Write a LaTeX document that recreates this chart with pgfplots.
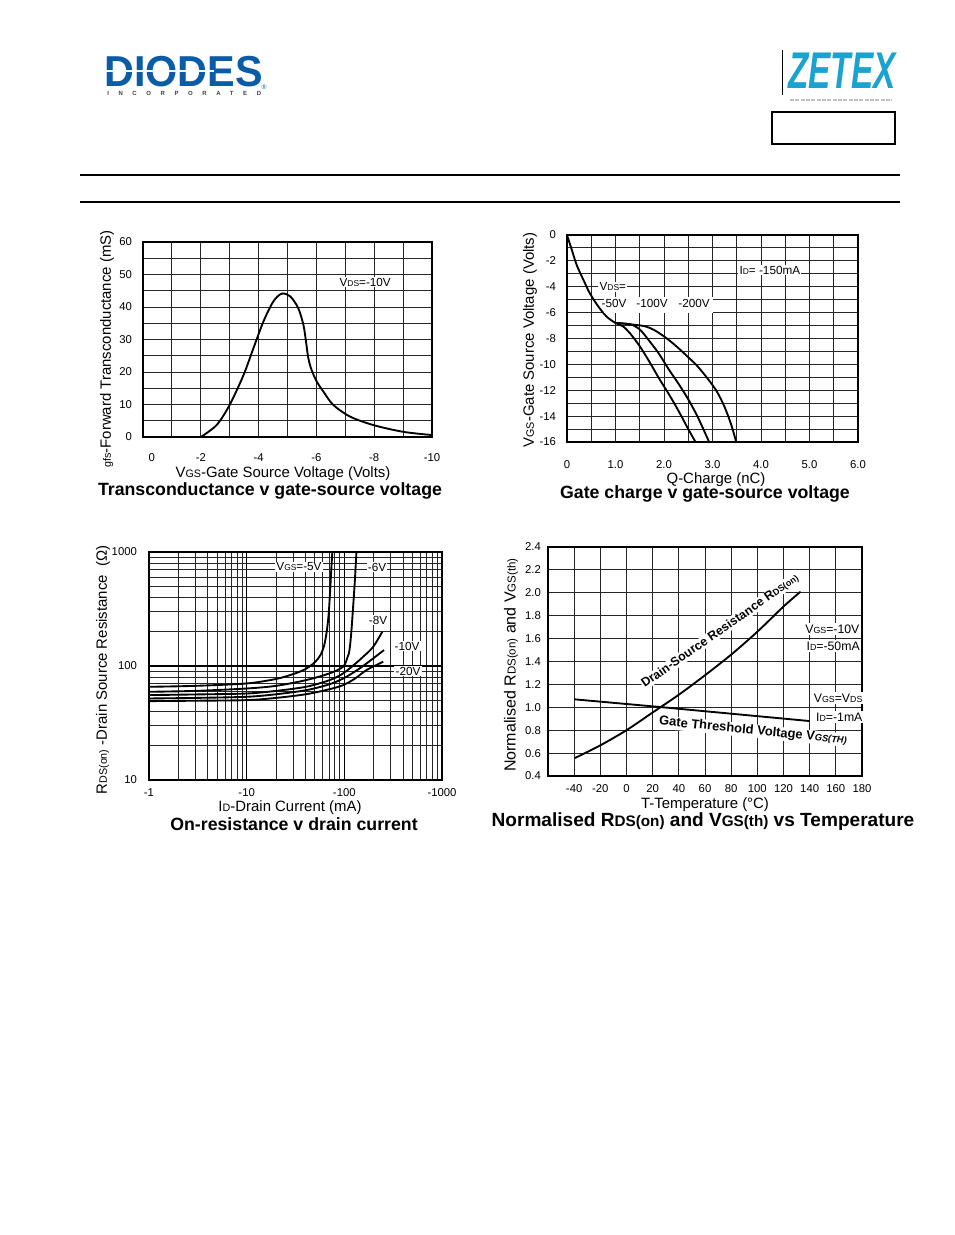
\documentclass[border=0pt]{standalone}
\usepackage{fontspec}
\setmainfont{Liberation Sans}
\usepackage{graphicx}
\usepackage{pgfplots}
\pgfplotsset{compat=1.18}

\definecolor{diodesblue}{HTML}{0B5CA6}
\definecolor{zetexcyan}{HTML}{1AA3CF}

% small "subscript" letters that stay on the baseline, as in the datasheet
\newcommand\sm[1]{\scalebox{0.72}{#1}}
\newcommand\smt[1]{\scalebox{0.8}{#1}}
\newcommand\tk{\fontsize{8.5}{10}\selectfont}
\newcommand\al{\fontsize{11.2}{13}\selectfont}
\newcommand\ttl{\fontsize{13.3}{15}\selectfont\bfseries}
\newcommand\lb{\fontsize{8.8}{10}\selectfont}

\pgfplotsset{
  sheet/.style={
    scale only axis, anchor=south west,
    axis line style={line width=0.95pt},
    grid=both,
    major grid style={line width=0.7pt, black!85},
    minor grid style={line width=0.7pt, black!85},
    major tick length=0pt, minor tick length=0pt,
    tick label style={font=\tk},
    /pgf/number format/assume math mode=true,
  },
  crv/.style={black, line width=1.4pt, smooth, mark=none},
}

\begin{document}
\begin{tikzpicture}
\begin{scope}[x=0.75pt,y=-0.75pt]
\fill[white] (0,0) rectangle (954,1235);
% header
\node[anchor=west, text=diodesblue, inner sep=0] at (104,72) {\scalebox{1.07}[1.12]{\fontsize{29}{29}\selectfont\bfseries DIODES}};
\draw[white, line width=1.1pt] (106,71) -- (214,71);
\node[anchor=west, inner sep=0, text=black!75, font=\fontsize{4.5}{5}\selectfont\bfseries] at (107,93) {\addfontfeatures{LetterSpace=160}INCORPORATED};
\node[inner sep=0, text=diodesblue, font=\fontsize{5}{5}\selectfont] at (264,87) {®};
\draw[line width=0.6pt] (782,50) -- (782,95);
\node[anchor=west, inner sep=0, text=zetexcyan] at (788,71) {\scalebox{1}[1.55]{\fontsize{25}{25}\selectfont\bfseries\itshape ZETEX}};
\draw[gray!50, line width=1.2pt, dash pattern=on 3pt off 1pt] (790,100) -- (892,100);
\draw[line width=0.8pt] (772,112) rectangle (895,144);
\draw[line width=1.6pt] (80,175) -- (900,175);
\draw[line width=1.6pt] (80,202) -- (900,202);
\end{scope}

% ---- transconductance
\begin{axis}[sheet, at={(143*0.75pt,-437*0.75pt)}, width=216.75pt, height=146.25pt,
  xmin=-10, xmax=0, x dir=reverse, ymin=0, ymax=60,
  xtick={0,-2,-4,-6,-8,-10}, xticklabels={\hspace{13pt}0,-2,-4,-6,-8,-10},
  minor xtick={-1,-3,-5,-7,-9},
  ytick={0,10,20,30,40,50,60}, minor ytick={5,15,25,35,45,55},
  xticklabel style={yshift=-8.8pt}, yticklabel style={xshift=-4.8pt}]
\addplot[crv] coordinates {
  (-2,0) (-2.55,3.7) (-3,9.9) (-3.48,19.1) (-3.82,27.3) (-4.17,35.6)
  (-4.51,41.7) (-4.8,44.1) (-5.09,43.3) (-5.37,39.7) (-5.55,34.5)
  (-5.64,29.4) (-5.72,24.3) (-5.83,20.7) (-6.01,17.1) (-6.24,14.0)
  (-6.58,9.9) (-7.16,6.3) (-7.96,3.7) (-9.0,1.6) (-10,0.6)
};
\end{axis}

% ---- gate charge
\begin{axis}[sheet, at={(567*0.75pt,-442*0.75pt)}, width=218.25pt, height=155.25pt,
  xmin=0, xmax=6, ymin=-16, ymax=0,
  xtick={0,1,2,3,4,5,6}, xticklabels={0,1.0,2.0,3.0,4.0,5.0,6.0},
  minor xtick={0.5,1.5,2.5,3.5,4.5,5.5},
  ytick={-16,-14,-12,-10,-8,-6,-4,-2,0}, yticklabels={-16,-14,-12,-10,-8,-6,-4,-2,0},
  minor ytick={-15,-13,-11,-9,-7,-5,-3,-1},
  xticklabel style={yshift=-10.2pt}, yticklabel style={xshift=-4.8pt}]
\addplot[crv] coordinates {
  (0,0) (0.10,-1.16) (0.2,-2.32) (0.34,-3.48) (0.47,-4.5) (0.65,-5.55)
  (0.82,-6.32) (1.0,-6.8) (1.15,-7.05) (1.3,-7.6) (1.5,-8.6) (1.7,-9.8)
  (1.9,-11.1) (2.1,-12.3) (2.3,-13.6) (2.5,-15) (2.65,-16)
};
\addplot[crv] coordinates {
  (1.0,-6.8) (1.3,-6.9) (1.5,-7.3) (1.7,-8.2) (1.9,-9.2) (2.1,-10.4)
  (2.3,-11.5) (2.5,-12.7) (2.7,-14.1) (2.93,-16)
};
\addplot[crv] coordinates {
  (1.0,-6.8) (1.3,-6.9) (1.6,-7.05) (1.8,-7.35) (2.06,-8.0) (2.3,-8.75)
  (2.5,-9.45) (2.68,-10.1) (2.9,-11.1) (3.09,-12.1) (3.25,-13.3)
  (3.38,-14.6) (3.49,-16)
};
\end{axis}

% ---- on-resistance
\begin{axis}[sheet, at={(149*0.75pt,-780*0.75pt)}, width=219.75pt, height=171pt,
  xmode=log, ymode=log, xmin=1, xmax=1000, ymin=10, ymax=1000,
  xtick={1,10,100,1000}, xticklabels={-1,-10,-100,-1000},
  minor xtick={2,3,4,5,6,7,8,9,20,30,40,50,60,70,80,90,200,300,400,500,600,700,800,900},
  ytick={10,100,1000}, yticklabels={10,100,1000},
  minor ytick={20,30,40,50,60,70,80,90,200,300,400,500,600,700,800,900},
  major grid style={line width=1.1pt, black},
  xticklabel style={yshift=-2.8pt}, yticklabel style={xshift=-5.5pt}]
\addplot[crv] coordinates {
  (1,65.7) (3,67) (10,70.3) (20,77) (30,85) (40,94) (50,108) (57,125)
  (62,150) (66,200) (69,280) (71.5,450) (73.5,700) (75.4,1000)
};
\addplot[crv] coordinates {
  (1,59.4) (3,60.5) (10,63.5) (20,67) (40,75) (70,86) (97,98.5) (108,120)
  (113,138) (118,200) (123,330) (128,550) (133,1000)
};
\addplot[crv] coordinates {
  (1,55.6) (3,56.3) (10,57.4) (20,60.5) (40.8,65.8) (70,75) (97,86)
  (130,105) (155,120) (197,147) (245,200)
};
\addplot[crv] coordinates {
  (1,51.9) (3,52.5) (10,53.7) (20,56.5) (40.8,61.4) (70,69) (97,77.6)
  (130,90) (168,105) (255,138)
};
\addplot[crv] coordinates {
  (1,49.2) (3,49.6) (10,50.2) (20,52.5) (40.8,56.6) (70,62.5) (97,67.9)
  (130,78) (168,92) (250,109)
};
\end{axis}

% ---- normalised vs temperature
\begin{axis}[sheet, at={(548*0.75pt,-776*0.75pt)}, width=235.5pt, height=171.75pt,
  xmin=-60, xmax=180, ymin=0.4, ymax=2.4,
  xtick={-40,-20,0,20,40,60,80,100,120,140,160,180},
  xticklabels={-40,-20,0,20,40,60,80,100,120,140,160,180},
  ytick={0.4,0.6,0.8,1.0,1.2,1.4,1.6,1.8,2.0,2.2,2.4},
  yticklabels={0.4,0.6,0.8,1.0,1.2,1.4,1.6,1.8,2.0,2.2,2.4},
  xticklabel style={yshift=-2.8pt}, yticklabel style={xshift=-1.8pt}]
\addplot[crv] coordinates {
  (-39.4,0.557) (-20,0.668) (0,0.80) (20,0.955) (40,1.11)
  (60,1.28) (80,1.46) (100,1.66) (120,1.88) (133,2.01)
};
\addplot[black, line width=1.4pt] coordinates {(-40,1.07) (28,1.0) (140,0.88)};
\end{axis}

\begin{scope}[x=0.75pt,y=-0.75pt]
% chart 1 texts
\node[rotate=90, font=\al] at (107,349) {\sm{gfs}-Forward Transconductance (mS)};
\node[font=\al] at (283,474) {V\sm{GS}-Gate Source Voltage (Volts)};
\node[font=\ttl] at (270,491) {Transconductance v gate-source voltage};
\node[font=\lb, anchor=west, fill=white, inner sep=1pt] at (338,282) {V\sm{DS}=-10V};
% chart 2 texts
\node[rotate=90, font=\al] at (530,340) {V\sm{GS}-Gate Source Voltage (Volts)};
\node[font=\al] at (716,480) {Q-Charge (nC)};
\node[font=\ttl] at (705,494) {Gate charge v gate-source voltage};
\node[font=\lb, anchor=west, fill=white, inner sep=1pt] at (598,287) {V\sm{DS}=};
\fill[white] (604,297) rectangle (713,313);
\node[font=\lb, inner sep=1pt] at (614,303) {-50V};
\node[font=\lb, inner sep=1pt] at (652,303) {-100V};
\node[font=\lb, inner sep=1pt] at (694,303) {-200V};
\node[font=\lb, anchor=west, fill=white, inner sep=1pt] at (738,270) {I\sm{D}= -150mA};
% chart 3 texts
\node[rotate=90, font=\al] at (103,670) {R\sm{DS(on)} -Drain Source Resistance\ \ (Ω)};
\node[font=\al] at (290,808) {I\sm{D}-Drain Current (mA)};
\node[font=\ttl] at (294,824) {On-resistance v drain current};
\node[font=\lb, fill=white, inner sep=1pt] at (299,567) {V\sm{GS}=-5V};
\node[font=\lb, fill=white, inner sep=1pt] at (377,567) {-6V};
\node[font=\lb, fill=white, inner sep=1pt] at (378,620) {-8V};
\node[font=\lb, fill=white, inner sep=1pt] at (407,646) {-10V};
\node[font=\lb, fill=white, inner sep=1pt] at (408,671) {-20V};
% chart 4 texts
\node[rotate=90, font=\fontsize{12}{14}\selectfont] at (511,665) {Normalised R\sm{DS(on)} and V\sm{GS(th)}};
\node[font=\al] at (705,805) {T-Temperature (°C)};
\node[font=\fontsize{14.3}{16}\selectfont\bfseries] at (703,822) {Normalised R\smt{DS(on)} and V\smt{GS(th)} vs Temperature};
\node[font=\fontsize{9.2}{11}\selectfont, anchor=east, fill=white, inner sep=1pt] at (861,629) {V\sm{GS}=-10V};
\node[font=\fontsize{9.2}{11}\selectfont, anchor=west, fill=white, inner sep=1pt] at (805,646) {I\sm{D}=-50mA};
\node[font=\fontsize{9.2}{11}\selectfont, anchor=east, fill=white, inner sep=1pt] at (864,698) {V\sm{GS}=V\sm{DS}};
\node[font=\fontsize{9.2}{11}\selectfont, anchor=east, fill=white, inner sep=1pt] at (864,717) {I\sm{D}=-1mA};
\node[rotate=35, font=\fontsize{9.3}{10}\selectfont\bfseries, fill=white, inner sep=0.5pt] at (720,631) {Drain-Source Resistance R\sm{DS(on)}};
\node[rotate=-5.7, font=\fontsize{9.7}{10}\selectfont\bfseries, fill=white, inner sep=0.5pt] at (753,731) {Gate Threshold Voltage V\sm{\itshape GS(TH)}};
\end{scope}
\end{tikzpicture}
\end{document}
